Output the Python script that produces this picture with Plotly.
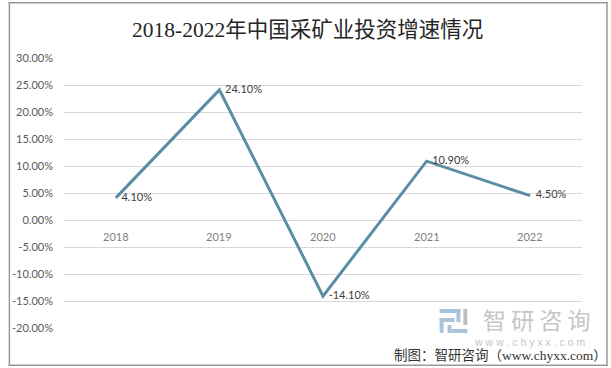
import plotly.graph_objects as go

years = ["2018", "2019", "2020", "2021", "2022"]
growth = [4.10, 24.10, -14.10, 10.90, 4.50]
labels = ["4.10%", "24.10%", "-14.10%", "10.90%", "4.50%"]
y_ticks = [30, 25, 20, 15, 10, 5, 0, -5, -10, -15, -20]
y_tick_text = ["30.00%", "25.00%", "20.00%", "15.00%", "10.00%", "5.00%", "0.00%",
               "-5.00%", "-10.00%", "-15.00%", "-20.00%"]
title = "2018-2022年中国采矿业投资增速情况"
source = "制图：智研咨询（www.chyxx.com）"

W, H = 611, 368
L, R, T, B = 58, 29, 58, 40
PW, PH = W - L - R, H - T - B


def px(x):
    return (x - L) / PW


def py(y):
    return ((H - B) - y) / PH


fig = go.Figure()
fig.add_trace(go.Scatter(
    x=list(range(len(years))), y=growth, mode="lines+text",
    line=dict(color="#5A8EA5", width=3),
    text=["  " + t for t in labels], textposition="middle right",
    textfont=dict(family="Lato, Noto Sans, sans-serif", size=11, color="#404040"),
    cliponaxis=False, showlegend=False, hoverinfo="skip",
))

annotations = []
for i, yr in enumerate(years):
    annotations.append(dict(x=i, y=0, xref="x", yref="y", text=yr, showarrow=False,
                            yshift=-16, font=dict(family="Lato, Noto Sans, sans-serif", size=11, color="#7f7f7f")))

annotations.append(dict(x=px(304), y=py(30), xref="paper", yref="paper", xanchor="center", yanchor="middle",
                        text=title, showarrow=False,
                        font=dict(family="Liberation Serif, Noto Sans CJK SC, serif", size=21.5, color="#262626")))
annotations.append(dict(x=px(609), y=py(355), xref="paper", yref="paper", xanchor="right", yanchor="middle",
                        text=source, showarrow=False,
                        font=dict(family="Liberation Serif, Noto Sans CJK SC, serif", size=13.5, color="#333333")))
annotations.append(dict(x=px(592), y=py(319), xref="paper", yref="paper", xanchor="right", yanchor="middle",
                        text="智 研 咨 询", showarrow=False,
                        font=dict(family="Noto Sans CJK SC, sans-serif", size=23, color="#c6c6c6")))
annotations.append(dict(x=px(588), y=py(342), xref="paper", yref="paper", xanchor="right", yanchor="middle",
                        text="w w w . c h y x x . c o m", showarrow=False,
                        font=dict(family="Liberation Sans, sans-serif", size=10.5, color="#c6c6c6")))


def px_rect(x0, y0, x1, y1, color):
    return dict(type="rect", xref="paper", yref="paper",
                x0=px(x0), x1=px(x1), y0=py(y1), y1=py(y0),
                line=dict(width=0), fillcolor=color, layer="above")


BC = "#999999"
shapes = [
    px_rect(2, 2, 608, 3.5, BC),
    px_rect(2, 364.5, 608, 366, BC),
    px_rect(2, 2, 3.5, 366, BC),
    px_rect(606.5, 2, 608, 366, BC),
    px_rect(434, 322, 600, 347, "white"),
    # logo icon
    px_rect(438, 309, 459, 313, "#a9c3da"),
    px_rect(455, 309, 459, 322, "#a9c3da"),
    px_rect(438, 318, 453, 322, "#a9c3da"),
    px_rect(438, 318, 442, 333, "#a9c3da"),
    px_rect(446, 325, 450, 333, "#a9c3da"),
    px_rect(450, 329, 466, 333, "#a9c3da"),
    px_rect(462, 309, 466, 325, "#bdbdbd"),
]

fig.update_layout(
    width=W, height=H, margin=dict(l=L, r=R, t=T, b=B),
    paper_bgcolor="white", plot_bgcolor="white",
    xaxis=dict(range=[-0.5, len(years) - 0.5], showticklabels=False, showgrid=False,
               zeroline=False, showline=False, fixedrange=True),
    yaxis=dict(range=[-20, 30], tickvals=y_ticks, ticktext=y_tick_text, showgrid=True,
               gridcolor="#d9d9d9", gridwidth=1, zeroline=False, showline=False,
               ticks="", ticklabelstandoff=10, fixedrange=True,
               tickfont=dict(family="Lato, Noto Sans, sans-serif", size=11, color="#595959")),
    annotations=annotations, shapes=shapes,
)

fig.write_html("out.html", config={"displayModeBar": False},
               post_script="document.body.style.margin='0';")
